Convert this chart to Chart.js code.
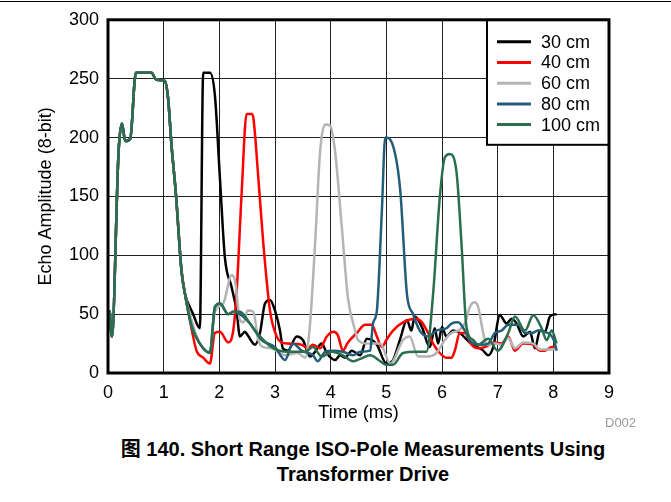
<!DOCTYPE html>
<html>
<head>
<meta charset="utf-8">
<script src="https://cdn.jsdelivr.net/npm/chart.js@4.4.1/dist/chart.umd.min.js"></script>
<style>
  body { margin: 0; background: #fff; width: 671px; height: 502px; position: relative; overflow: hidden; }
  #topline { position: absolute; left: 0; top: 1px; width: 671px; height: 1px; background: #000; }
  #wrap { position: absolute; left: 0; top: 0; width: 671px; height: 425px; }
  #code { position: absolute; left: 605px; top: 415px; line-height: 15px;
          font: 13px "Liberation Sans", Arial, sans-serif; color: #9a9a9a; }
  #caption { position: absolute; left: 0; width: 726px; top: 437px; text-align: center;
             font: bold 20px "Liberation Sans", Arial, "Noto Sans CJK SC", sans-serif; line-height: 25px; color: #000; }
</style>
</head>
<body>
<div id="topline"></div>
<div id="wrap"><canvas id="chart" width="671" height="425"></canvas></div>
<div id="code">D002</div>
<div id="caption">图 140. Short Range ISO-Pole Measurements Using<br>Transformer Drive</div>
<script>
// transmit burst, shared by every distance
const burstTime = [0.03, 0.07, 0.19, 0.25, 0.31, 0.40, 0.50, 0.78, 0.87, 1.02, 1.08, 1.14, 1.22, 1.32, 1.38];
const burstAmp  = [53, 31, 188, 212, 197, 199, 255, 255, 249, 248, 233, 194, 152, 87, 68];

const time30 = [1.53, 1.65, 1.71, 1.83, 1.92, 2.01, 2.10, 2.22, 2.31, 2.37, 2.46, 2.51, 2.64, 2.73, 2.82, 2.91, 3.0, 3.09, 3.14, 3.23, 3.39, 3.5, 3.63, 3.72, 3.84, 3.93, 4.08, 4.17, 4.26, 4.38, 4.53, 4.65, 4.83, 5.0, 5.12, 5.25, 5.37, 5.45, 5.51, 5.64, 5.78, 5.87, 5.93, 6.0, 6.08, 6.2, 6.32, 6.5, 6.74, 6.83, 6.92, 7.04, 7.16, 7.25, 7.34, 7.46, 7.58, 7.67, 7.76, 7.85, 7.94, 8.06];
const amp30  = [50, 38, 255, 255, 236, 166, 98, 73, 53, 31, 35, 32, 24, 34, 59, 62, 53, 36, 21, 19, 31, 28, 14, 18, 25, 17, 11, 15, 13, 19, 15, 29, 24, 8, 11, 29, 45, 36, 48, 39, 22, 38, 25, 39, 31, 36, 34, 26, 19, 15, 22, 49, 42, 46, 42, 31, 35, 21, 36, 35, 48, 50];

const time40 = [1.44, 1.59, 1.71, 1.83, 1.92, 2.01, 2.16, 2.25, 2.31, 2.40, 2.49, 2.58, 2.61, 2.70, 2.79, 2.91, 3.03, 3.12, 3.23, 3.48, 3.59, 3.68, 3.81, 3.93, 4.05, 4.13, 4.22, 4.31, 4.47, 4.62, 4.74, 4.83, 4.92, 5.0, 5.12, 5.3, 5.54, 5.64, 5.75, 5.84, 5.96, 6.08, 6.17, 6.23, 6.32, 6.41, 6.53, 6.65, 6.77, 6.95, 7.07, 7.19, 7.31, 7.46, 7.64, 7.76, 7.85, 7.97, 8.06];
const amp40  = [53, 19, 13, 8, 34, 35, 26, 36, 68, 152, 220, 220, 217, 166, 110, 53, 31, 26, 25, 24, 21, 24, 21, 31, 35, 32, 19, 26, 34, 41, 41, 31, 22, 28, 36, 43, 46, 43, 34, 25, 17, 13, 13, 19, 34, 34, 24, 21, 22, 26, 25, 31, 19, 25, 24, 19, 19, 22, 21];

const time60 = [1.50, 1.65, 1.83, 1.92, 2.07, 2.22, 2.28, 2.37, 2.43, 2.51, 2.61, 2.70, 2.79, 2.94, 3.18, 3.41, 3.54, 3.63, 3.72, 3.81, 3.90, 3.99, 4.08, 4.20, 4.31, 4.44, 4.49, 4.65, 4.89, 5.07, 5.30, 5.42, 5.57, 5.72, 5.90, 6.05, 6.17, 6.29, 6.41, 6.50, 6.59, 6.65, 6.74, 6.80, 6.95, 7.07, 7.19, 7.31, 7.46, 7.64, 7.76, 7.85, 7.97, 8.06];
const amp60  = [45, 25, 18, 52, 59, 83, 79, 45, 43, 53, 52, 28, 22, 21, 15, 17, 13, 42, 110, 188, 211, 210, 188, 124, 64, 36, 28, 25, 25, 8, 28, 31, 14, 14, 17, 28, 34, 36, 42, 56, 60, 56, 34, 24, 25, 24, 30, 21, 26, 25, 20, 20, 20, 21];

const time80 = [1.50, 1.65, 1.83, 1.92, 2.01, 2.16, 2.25, 2.37, 2.55, 2.76, 3.0, 3.18, 3.32, 3.48, 3.68, 3.77, 3.90, 4.05, 4.22, 4.40, 4.53, 4.71, 4.76, 4.83, 4.92, 4.98, 5.12, 5.25, 5.37, 5.48, 5.60, 5.75, 5.90, 6.08, 6.17, 6.29, 6.41, 6.53, 6.71, 6.83, 6.95, 7.07, 7.19, 7.37, 7.49, 7.61, 7.73, 7.85, 8.0, 8.06];
const amp80  = [40, 25, 17, 56, 59, 50, 52, 50, 42, 28, 22, 11, 25, 19, 15, 10, 18, 19, 18, 15, 18, 19, 42, 53, 138, 200, 193, 155, 67, 50, 36, 31, 36, 38, 42, 43, 36, 26, 24, 25, 34, 36, 41, 41, 34, 34, 36, 35, 29, 19];

const time100 = [1.50, 1.65, 1.83, 1.92, 2.01, 2.16, 2.25, 2.37, 2.55, 2.64, 2.94, 3.23, 3.54, 3.68, 3.84, 4.02, 4.22, 4.40, 4.53, 4.71, 4.89, 5.0, 5.12, 5.30, 5.54, 5.72, 5.84, 5.96, 6.05, 6.14, 6.26, 6.35, 6.44, 6.56, 6.65, 6.83, 7.0, 7.19, 7.31, 7.49, 7.64, 7.79, 7.88, 7.97, 8.06];
const amp100  = [40, 25, 17, 56, 59, 50, 52, 52, 42, 36, 22, 18, 18, 22, 14, 18, 15, 10, 12, 15, 10, 7, 7, 17, 18, 18, 67, 149, 183, 186, 171, 110, 39, 28, 24, 29, 19, 34, 48, 36, 49, 38, 28, 36, 25];

const seriesLabels = ["30 cm", "40 cm", "60 cm", "80 cm", "100 cm"];
const seriesColors = ["#000000", "#ff0000", "#b4b4b4", "#235d7a", "#2b6e4e"];
const seriesTimes = [time30, time40, time60, time80, time100];
const seriesAmps = [amp30, amp40, amp60, amp80, amp100];

const xTicks = [0, 1, 2, 3, 4, 5, 6, 7, 8, 9];
const yTicks = [0, 50, 100, 150, 200, 250, 300];

const FONT = "'Liberation Sans', Arial, sans-serif";

function points(t, a) {
  const xs = burstTime.concat(t);
  const ys = burstAmp.concat(a);
  return xs.map((x, i) => ({ x: x, y: ys[i] }));
}

const datasets = seriesLabels.map((label, i) => ({
  label: label,
  data: points(seriesTimes[i], seriesAmps[i]),
  borderColor: seriesColors[i],
  backgroundColor: seriesColors[i],
  borderWidth: 2.5,
  pointRadius: 0,
  fill: false,
  cubicInterpolationMode: "monotone",
  order: seriesLabels.length - i
}));

// legend box and plot frame
const framePlugin = {
  id: "frame",
  afterDraw(chart) {
    const { ctx, chartArea } = chart;
    ctx.save();
    const w = 122, h = 125;
    const lx = chartArea.right - w, ly = chartArea.top;
    ctx.fillStyle = "#fff";
    ctx.fillRect(lx, ly, w, h);
    ctx.strokeStyle = "#000";
    ctx.lineWidth = 2;
    ctx.strokeRect(lx, ly, w, h);
    ctx.font = "18px " + FONT;
    ctx.textBaseline = "middle";
    chart.data.datasets.forEach((ds, i) => {
      const y = ly + 22 + i * 20.7;
      ctx.strokeStyle = ds.borderColor;
      ctx.lineWidth = 3;
      ctx.beginPath();
      ctx.moveTo(lx + 10, y);
      ctx.lineTo(lx + 44, y);
      ctx.stroke();
      ctx.fillStyle = "#000";
      ctx.fillText(ds.label, lx + 54, y + 1);
    });
    ctx.strokeStyle = "#000";
    ctx.lineWidth = 3;
    ctx.strokeRect(chartArea.left, chartArea.top, chartArea.right - chartArea.left, chartArea.bottom - chartArea.top);
    ctx.restore();
  }
};

new Chart(document.getElementById("chart"), {
  type: "line",
  data: { datasets: datasets },
  options: {
    responsive: false,
    animation: false,
    devicePixelRatio: 1,
    layout: { padding: { left: 35, top: 18, right: 62, bottom: 0 } },
    plugins: { legend: { display: false }, tooltip: { enabled: false } },
    scales: {
      x: {
        type: "linear",
        min: 0,
        max: 9,
        afterFit: s => { s.height = 52; },
        afterBuildTicks: s => { s.ticks = xTicks.map(v => ({ value: v })); },
        grid: { color: "#222", lineWidth: 1, drawTicks: false },
        border: { display: false },
        ticks: { color: "#000", padding: 9, font: { family: FONT, size: 18 } },
        title: { display: true, text: "Time (ms)", color: "#000", padding: { top: 0, bottom: 1 }, font: { family: FONT, size: 18 } }
      },
      y: {
        min: 0,
        max: 300,
        afterFit: s => { s.width = 73; },
        afterBuildTicks: s => { s.ticks = yTicks.map(v => ({ value: v })); },
        grid: { color: "#222", lineWidth: 1, drawTicks: false },
        border: { display: false },
        ticks: { color: "#000", padding: 9, font: { family: FONT, size: 18 } },
        title: { display: true, text: "Echo Amplitude (8-bit)", color: "#000", padding: 0, font: { family: FONT, size: 18 } }
      }
    }
  },
  plugins: [framePlugin]
});
</script>
</body>
</html>
